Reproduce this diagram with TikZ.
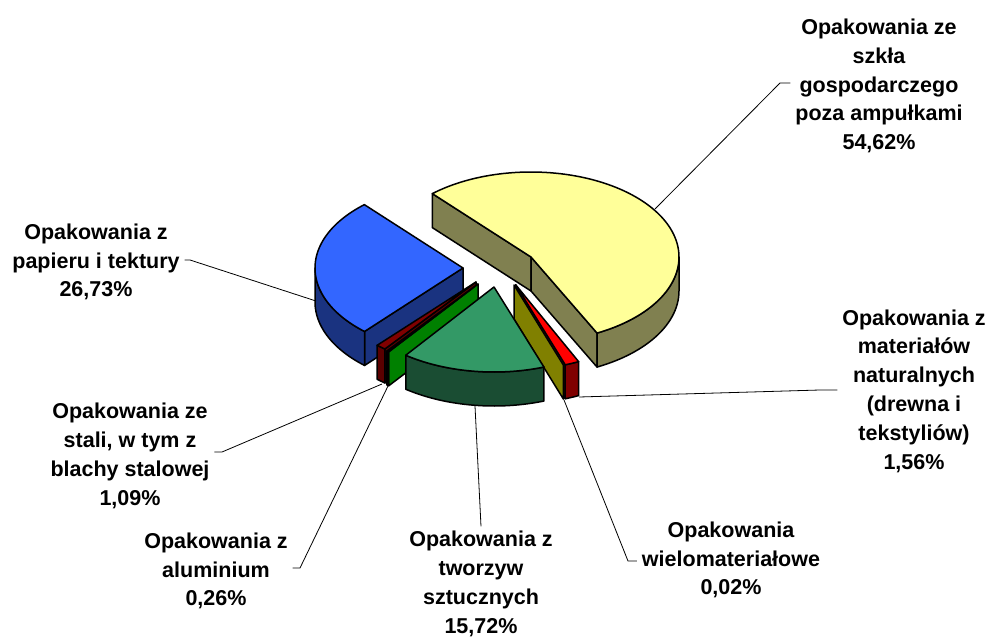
\documentclass[tikz,border=0pt]{standalone}
\usepackage{fontspec}
\setmainfont{Liberation Sans}
\definecolor{ytop}{HTML}{FFFF99}
\definecolor{yside}{RGB}{128,128,80}
\definecolor{btop}{HTML}{3366FF}
\definecolor{bside}{RGB}{26,51,128}
\definecolor{ttop}{HTML}{339966}
\definecolor{tside}{RGB}{26,77,51}
\definecolor{stop}{HTML}{800000}
\definecolor{sside}{RGB}{90,0,0}
\definecolor{atop}{HTML}{00FF00}
\definecolor{aside}{HTML}{008000}
\definecolor{rtop}{HTML}{FF0000}
\definecolor{rside}{HTML}{800000}
\definecolor{wtop}{HTML}{FFFF00}
\definecolor{wside}{HTML}{808000}
\newcommand{\PieTop}[4]{\coordinate (#1) at ({#2+148*cos(#4)},{#3-85*sin(#4)});}
\newcommand{\PieBot}[4]{\coordinate (#1) at ({#2+148*cos(#4)},{#3+34-85*sin(#4)});}
\tikzset{
  face/.style={draw=black, line width=1.5pt, line join=round},
  lbl/.style={font=\bfseries\fontsize{21.5}{28.8}\selectfont, align=center, inner sep=0pt, outer sep=5pt},
  conn/.style={draw=black, line width=0.8pt},
}
\begin{document}
\begin{tikzpicture}[x=1pt,y=-1pt]
\useasboundingbox (0,0) rectangle (989,637);
% ---------- yellow slice (glass) ----------
\coordinate (Yc) at (531,257);
\coordinate (Ycb) at (531,291);
\PieTop{Y1}{531}{257}{131.8}
\PieBot{Y1b}{531}{257}{131.8}
\PieTop{Y2}{531}{257}{-63.5}
\PieBot{Y2b}{531}{257}{-63.5}
\filldraw[face, fill=yside] (Yc) -- (Y1) -- (Y1b) -- (Ycb) -- cycle;
\filldraw[face, fill=yside] (Yc) -- (Y2) -- (Y2b) -- (Ycb) -- cycle;
\filldraw[face, fill=yside] plot[domain=-63.5:0,samples=30,variable=\t] ({531+148*cos(\t)},{257-85*sin(\t)}) -- plot[domain=0:-63.5,samples=30,variable=\t] ({531+148*cos(\t)},{291-85*sin(\t)}) -- cycle;
\filldraw[face, fill=ytop] (Yc) -- plot[domain=-63.5:131.8,samples=100,variable=\t] ({531+148*cos(\t)},{257-85*sin(\t)}) -- cycle;
% ---------- blue slice (paper) ----------
\coordinate (Bc) at (463,268);
\coordinate (Bcb) at (463,302);
\PieTop{B2}{463}{268}{228.3}
\PieBot{B2b}{463}{268}{228.3}
\filldraw[face, fill=bside] (Bc) -- (B2) -- (B2b) -- (Bcb) -- cycle;
\filldraw[face, fill=bside] plot[domain=180:228.3,samples=30,variable=\t] ({463+148*cos(\t)},{268-85*sin(\t)}) -- plot[domain=228.3:180,samples=30,variable=\t] ({463+148*cos(\t)},{302-85*sin(\t)}) -- cycle;
\filldraw[face, fill=btop] (Bc) -- plot[domain=131.8:228.3,samples=60,variable=\t] ({463+148*cos(\t)},{268-85*sin(\t)}) -- cycle;
% ---------- steel slice ----------
\coordinate (Sc) at (476,282);
\coordinate (Scb) at (476,316);
\PieTop{S1}{476}{282}{-128}
\PieBot{S1b}{476}{282}{-128}
\filldraw[face, fill=sside] (Sc) -- (S1) -- (S1b) -- (Scb) -- cycle;
\filldraw[face, fill=sside] plot[domain=-131.9:-128,samples=6,variable=\t] ({476+148*cos(\t)},{282-85*sin(\t)}) -- plot[domain=-128:-131.9,samples=6,variable=\t] ({476+148*cos(\t)},{316-85*sin(\t)}) -- cycle;
\filldraw[face, fill=stop] (Sc) -- plot[domain=-131.9:-128,samples=6,variable=\t] ({476+148*cos(\t)},{282-85*sin(\t)}) -- cycle;
% ---------- aluminium slice ----------
\coordinate (Ac) at (478,284);
\coordinate (Acb) at (478,318);
\PieTop{A1}{478}{284}{-127.1}
\PieBot{A1b}{478}{284}{-127.1}
\filldraw[face, fill=aside] (Ac) -- (A1) -- (A1b) -- (Acb) -- cycle;
\filldraw[face, fill=aside] plot[domain=-128:-127.1,samples=3,variable=\t] ({478+148*cos(\t)},{284-85*sin(\t)}) -- plot[domain=-127.1:-128,samples=3,variable=\t] ({478+148*cos(\t)},{318-85*sin(\t)}) -- cycle;
\filldraw[face, fill=atop] (Ac) -- plot[domain=-128:-127.1,samples=3,variable=\t] ({478+148*cos(\t)},{284-85*sin(\t)}) -- cycle;
% ---------- red slice (natural materials) ----------
\coordinate (Rc) at (515.6,284.7);
\coordinate (Rcb) at (515.6,318.7);
\PieTop{R2}{515.6}{284.7}{-70.4}
\PieBot{R2b}{515.6}{284.7}{-70.4}
\filldraw[face, fill=rside] (Rc) -- (R2) -- (R2b) -- (Rcb) -- cycle;
\filldraw[face, fill=rside] plot[domain=-70.4:-64.8,samples=6,variable=\t] ({515.6+148*cos(\t)},{284.7-85*sin(\t)}) -- plot[domain=-64.8:-70.4,samples=6,variable=\t] ({515.6+148*cos(\t)},{318.7-85*sin(\t)}) -- cycle;
\filldraw[face, fill=rtop] (Rc) -- plot[domain=-70.4:-64.8,samples=6,variable=\t] ({515.6+148*cos(\t)},{284.7-85*sin(\t)}) -- cycle;
% ---------- olive slice (multi-material) ----------
\coordinate (Wc) at (514,285);
\coordinate (Wcb) at (514,319);
\PieTop{W2}{514}{285}{-70.5}
\PieBot{W2b}{514}{285}{-70.5}
\filldraw[face, fill=wside] (Wc) -- (W2) -- (W2b) -- (Wcb) -- cycle;
% ---------- teal slice (plastics) ----------
\coordinate (Tc) at (494,287);
\filldraw[face, fill=tside] plot[domain=-126.6:-70.3,samples=50,variable=\t] ({494+148*cos(\t)},{287-85*sin(\t)}) -- plot[domain=-70.3:-126.6,samples=50,variable=\t] ({494+148*cos(\t)},{321-85*sin(\t)}) -- cycle;
\filldraw[face, fill=ttop] (Tc) -- plot[domain=-126.6:-70.3,samples=50,variable=\t] ({494+148*cos(\t)},{287-85*sin(\t)}) -- cycle;
% ---------- labels ----------
\node[lbl] (ylab) at (879,86) {Opakowania ze\\szkła\\gospodarczego\\poza ampułkami\\54,62\%};
\node[lbl] (blab) at (96,262) {Opakowania z\\papieru i tektury\\26,73\%};
\node[lbl] (nlab) at (914,391) {Opakowania z\\materiałów\\naturalnych\\(drewna i\\tekstyliów)\\1,56\%};
\node[lbl] (slab) at (130,456) {Opakowania ze\\stali, w tym z\\blachy stalowej\\1,09\%};
\node[lbl] (alab) at (216,571) {Opakowania z\\aluminium\\0,26\%};
\node[lbl] (tlab) at (481,584) {Opakowania z\\tworzyw\\sztucznych\\15,72\%};
\node[lbl] (wlab) at (731,560) {Opakowania\\wielomateriałowe\\0,02\%};
% ---------- connectors ----------
\coordinate (ya) at (655,209); \coordinate (yk) at (780,83);
\draw[conn] (ya) -- (yk) -- (yk -| ylab.west);
\coordinate (ba) at (316,301); \coordinate (bk) at (190,260);
\draw[conn] (ba) -- (bk) -- (bk -| blab.east);
\coordinate (na) at (579,397); \coordinate (nk) at (820,390);
\draw[conn] (na) -- (nk) -- (nk -| nlab.west);
\coordinate (wa) at (564,400); \coordinate (wk) at (628,561);
\draw[conn] (wa) -- (wk) -- (wk -| wlab.west);
\coordinate (ta) at (475,406);
\draw[conn] (ta) -- (tlab.north);
\coordinate (sa) at (382,384); \coordinate (sk) at (222,452);
\draw[conn] (sa) -- (sk) -- (sk -| slab.east);
\coordinate (aa) at (388,386); \coordinate (ak) at (300,568);
\draw[conn] (aa) -- (ak) -- (ak -| alab.east);
\end{tikzpicture}
\end{document}
